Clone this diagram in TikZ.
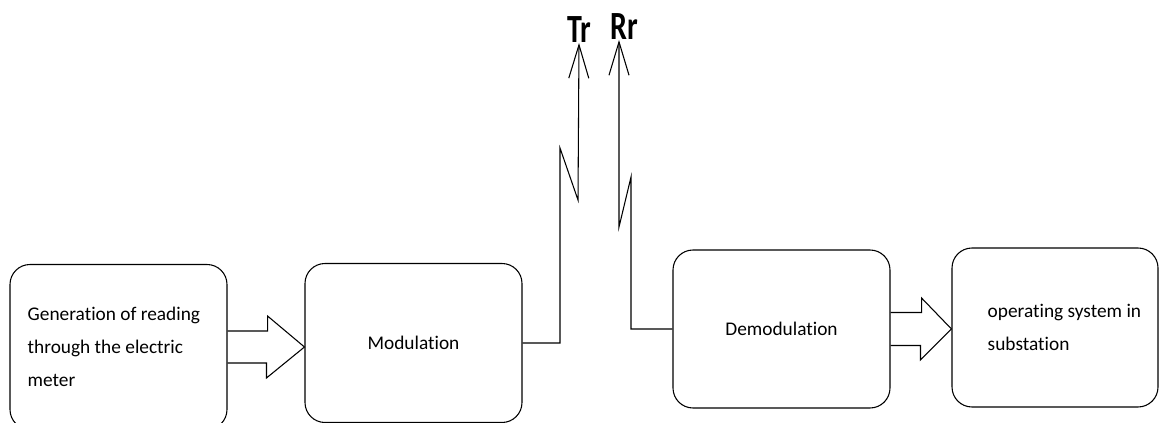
\documentclass[tikz,border=0pt]{standalone}
\usepackage{fontspec}
\setmainfont[Ligatures=NoCommon]{Carlito}
\usepackage{graphicx}
\usetikzlibrary{positioning,arrows.meta}
\tikzstyle{block}=[draw,rounded corners=15pt,line width=0.8pt,minimum width=162.75pt,inner sep=0pt,font=\fontsize{14.5}{24.5}\selectfont]

\begin{document}
\begin{tikzpicture}[x=0.75pt,y=-0.75pt,
    txt/.style={
        font=\fontsize{14.5}{24.5}\selectfont,
        align=left,
        inner sep=0pt
    },
    sig/.style={
        line width=0.8pt,
        -{Straight Barb[length=25pt,width=15pt]}
    },
    big/.style={
        font=\fontsize{30}{30}\selectfont\bfseries,
        inner sep=0pt,
        anchor=south
    },
    fat/.style={line width=0.8pt}
    ]
    \useasboundingbox (0,0) rectangle (1159,423);
    % blocks
    \node[block,minimum height=123.75pt] at (118.5,347) 
        (gen) {};
    \node[txt,right=13.5pt of gen.west] 
        (gen-txt) {Generation of reading\\through the electric\\meter};
    \node[block,minimum height=119.25pt] at (413.5,343) 
        (mod) {Modulation};
    \node[block,minimum height=118.5pt] at (781.5,329) 
        (dem) {Demodulation};
    \node[block,minimum width=154.5pt,minimum height=119.25pt] at (1055,327.5) 
        (os) {};
    \node[txt,right=27pt of os.west] 
        (os-txt) {operating system in\\substation};
    % antennas
    \node[big] at (579,43) (tr) {\scalebox{0.75}[1]{Tr}};
    \node[big] at (624,40) (rr) {\scalebox{0.75}[1]{Rr}};
    % block arrows
    \draw[fat] ([yshift=12pt]gen.east) -- ++(40,0) -- ++(0,-15) 
        -- (mod.west |- gen.east) -- ++(-38,31) -- ++(0,-15) -- ([yshift=-12pt]gen.east);
    \draw[fat] ([yshift=12.375pt]dem.east) -- ++(31,0) -- ++(0,-14.5) 
        -- (os.west |- dem.east) -- ++(-31,31) -- ++(0,-14.5) -- ([yshift=-12.375pt]dem.east);
    % signal lines
    \draw[sig] (mod.east) -| (560,148) -- (578,200) -- (tr.south);
    \draw[sig] (dem.west) -| (631,177) -- (619,227) -- ([xshift=-3.75pt]rr.south);
    \end{tikzpicture}
\end{document}
